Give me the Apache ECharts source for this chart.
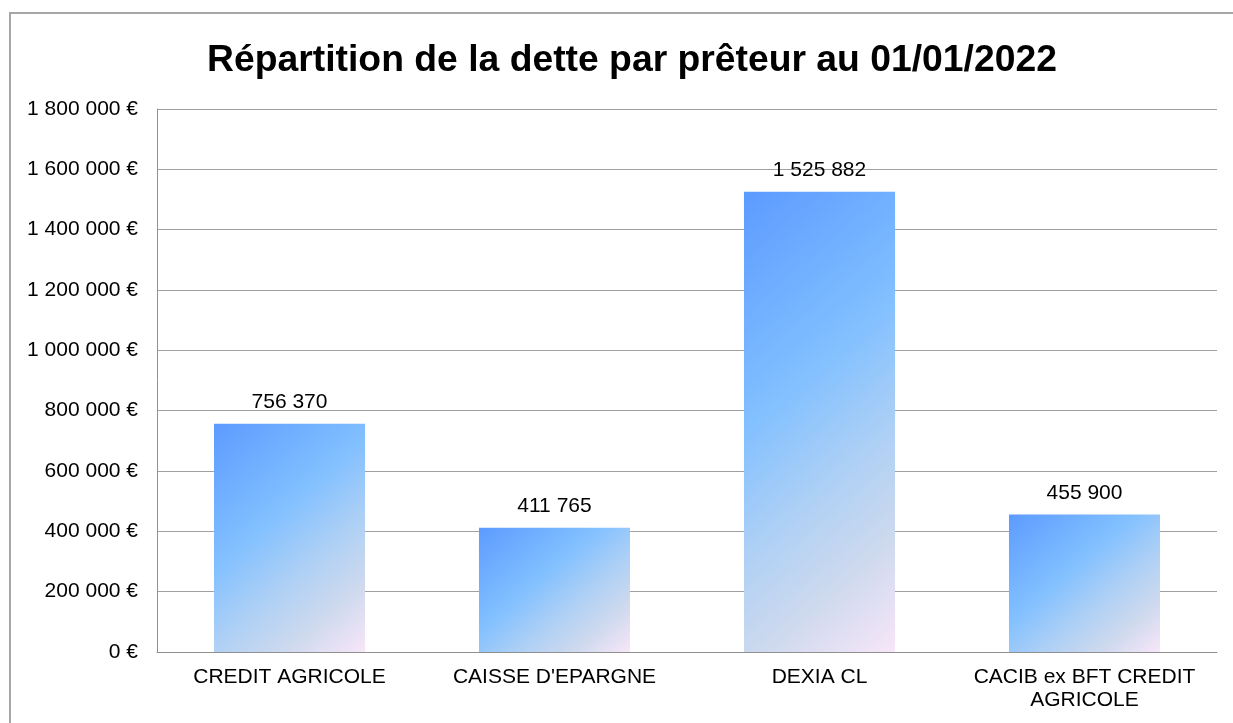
<!DOCTYPE html>
<html>
<head>
<meta charset="utf-8">
<title>Répartition de la dette par prêteur</title>
<script src="https://cdn.jsdelivr.net/npm/echarts@6/dist/echarts.min.js"></script>
<style>
    html, body { margin: 0; padding: 0; background: #fff; }
    #chart { width: 1233px; height: 723px; }
</style>
</head>
<body>
<div id="chart"></div>
<script>
// données
var preteurs = ['CREDIT AGRICOLE', "CAISSE D'EPARGNE", 'DEXIA CL', 'CACIB ex BFT CREDIT\nAGRICOLE'];
var montants = [756370, 411765, 1525882, 455900];
var yMax = 1800000;
var yPas = 200000;

var gapCategorie = 0.43;
// dégradé à ~41° comme dans Excel (direction en pixels)
var dirX = 0.655, dirY = 0.756;

function fmt(n) {
    return String(n).replace(/\B(?=(\d{3})+(?!\d))/g, ' ');
}

var chart = echarts.init(document.getElementById('chart'));

var option = {
    animation: false,
    textStyle: { fontFamily: 'Liberation Sans, Arial, sans-serif' },
    title: {
        text: 'Répartition de la dette par prêteur au 01/01/2022',
        left: 627,
        top: 37,
        textAlign: 'center',
        textStyle: {
            fontSize: 37.3,
            fontWeight: 'bold',
            color: '#000',
            fontFamily: 'Liberation Sans, Arial, sans-serif'
        }
    },
    graphic: [{
        type: 'rect',
        shape: { x: 10, y: 13, width: 1400, height: 900 },
        style: { fill: 'none', stroke: '#a6a6a6', lineWidth: 2 },
        silent: true
    }],
    grid: {
        left: 157,
        right: 16,
        top: 109,
        bottom: 71
    },
    xAxis: {
        type: 'category',
        data: preteurs,
        axisTick: { show: false },
        axisLine: { lineStyle: { color: '#909090', width: 1 } },
        axisLabel: {
            color: '#000',
            fontSize: 21,
            lineHeight: 23,
            margin: 14,
            interval: 0
        }
    },
    yAxis: {
        type: 'value',
        min: 0,
        max: yMax,
        interval: yPas,
        axisLine: { show: true, lineStyle: { color: '#909090', width: 1 } },
        axisTick: { show: false },
        splitLine: { lineStyle: { color: '#a0a0a0', width: 1 } },
        axisLabel: {
            color: '#000',
            fontSize: 21,
            margin: 19,
            formatter: function (v) { return fmt(v) + ' €'; }
        }
    },
    series: [{
        type: 'bar',
        data: montants,
        barCategoryGap: (gapCategorie * 100) + '%',
        itemStyle: { color: '#82c0ff' },
        label: {
            show: true,
            position: 'top',
            distance: 11,
            color: '#000',
            fontSize: 21,
            formatter: function (p) { return fmt(p.value); }
        }
    }]
};

chart.setOption(option);

// une fois les axes posés, on calcule le dégradé de chaque barre
var x0 = chart.convertToPixel({ xAxisIndex: 0 }, 0);
var x1 = chart.convertToPixel({ xAxisIndex: 0 }, 1);
var largeur = (x1 - x0) * (1 - gapCategorie);
var yZero = chart.convertToPixel({ yAxisIndex: 0 }, 0);

var donnees = montants.map(function (v) {
    var h = yZero - chart.convertToPixel({ yAxisIndex: 0 }, v);
    var span = largeur * dirX + h * dirY;
    return {
        value: v,
        itemStyle: {
            color: new echarts.graphic.LinearGradient(0, 0, span * dirX / largeur, span * dirY / h, [
                { offset: 0, color: '#5c9bff' },
                { offset: 0.4, color: '#82c0ff' },
                { offset: 0.62, color: '#aed0f5' },
                { offset: 0.8, color: '#cdd9ee' },
                { offset: 1, color: '#f8e6f8' }
            ])
        }
    };
});

chart.setOption({ series: [{ data: donnees }] });
</script>
</body>
</html>
